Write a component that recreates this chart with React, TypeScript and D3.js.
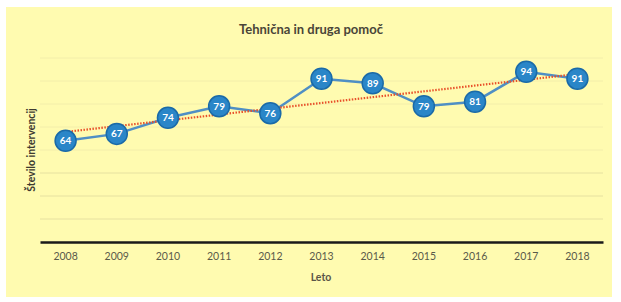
import React, { useEffect, useRef } from 'react';
import * as d3 from 'd3';

const years = ['2008', '2009', '2010', '2011', '2012', '2013', '2014', '2015', '2016', '2017', '2018'];
const interventions = [64, 67, 74, 79, 76, 91, 89, 79, 81, 94, 91];
const yTicks = [30, 40, 50, 60, 70, 80, 90, 100];

const W = 621;
const H = 302;

const App = () => {
  const svgRef = useRef<SVGSVGElement>(null);

  useEffect(() => {
    const svg = d3.select(svgRef.current);
    svg.selectAll('*').remove();

    const font = 'Lato, "Open Sans", sans-serif';

    // yellow panel
    svg.append('rect')
      .attr('x', 6).attr('y', 7)
      .attr('width', 606).attr('height', 290)
      .attr('fill', '#fffbb0');

    const x = d3.scaleBand().domain(years).range([40, 603]);
    const y = d3.scaleLinear().domain([20, 100]).range([242, 58]);

    // gridlines (faint, almost lost in the scan above 60)
    svg.append('g')
      .selectAll('line')
      .data(yTicks)
      .enter()
      .append('line')
      .attr('x1', 40).attr('x2', 603)
      .attr('y1', (d) => y(d)).attr('y2', (d) => y(d))
      .attr('stroke', (d) => (d <= 50 ? '#e6e1a0' : '#f3eeaa'))
      .attr('stroke-width', 1);

    // x axis
    const xAxis = svg.append('g')
      .attr('transform', `translate(0,${y(20)})`)
      .call(d3.axisBottom(x).tickSize(0).tickPadding(11));
    xAxis.select('.domain').attr('stroke', '#1a1a1a').attr('stroke-width', 2.5);
    xAxis.selectAll('text')
      .attr('font-family', font)
      .attr('font-size', 10.5)
      .attr('fill', '#5a5a4a');

    // title + axis titles
    svg.append('text')
      .attr('x', 311).attr('y', 34)
      .attr('text-anchor', 'middle')
      .attr('font-family', font)
      .attr('font-weight', 'bold')
      .attr('font-size', 13)
      .attr('fill', '#4a4538')
      .text('Tehnična in druga pomoč');

    svg.append('text')
      .attr('x', 321).attr('y', 281)
      .attr('text-anchor', 'middle')
      .attr('font-family', font)
      .attr('font-weight', 'bold')
      .attr('font-size', 10.5)
      .attr('fill', '#5a5548')
      .text('Leto');

    svg.append('text')
      .attr('transform', 'translate(35,150) rotate(-90)')
      .attr('text-anchor', 'middle')
      .attr('font-family', font)
      .attr('font-weight', 'bold')
      .attr('font-size', 10.5)
      .attr('fill', '#3e3a30')
      .text('Število intervencij');

    const cx = (d: string) => (x(d) as number) + x.bandwidth() / 2;

    // data line
    const line = d3.line<number>()
      .x((d, i) => cx(years[i]))
      .y((d) => y(d));

    svg.append('path')
      .datum(interventions)
      .attr('d', line)
      .attr('fill', 'none')
      .attr('stroke', '#4f8fc4')
      .attr('stroke-width', 2.5);

    // linear trend
    const idx = interventions.map((_, i) => i);
    const mx = d3.mean(idx) as number;
    const my = d3.mean(interventions) as number;
    const slope = d3.sum(idx, (i) => (i - mx) * (interventions[i] - my)) / d3.sum(idx, (i) => (i - mx) ** 2);
    const b = my - slope * mx;
    const trend = [0, idx.length - 1];
    svg.append('line')
      .attr('x1', cx(years[trend[0]])).attr('y1', y(b + slope * trend[0]))
      .attr('x2', cx(years[trend[1]])).attr('y2', y(b + slope * trend[1]))
      .attr('stroke', '#e8502a')
      .attr('stroke-width', 2.2)
      .attr('stroke-dasharray', '1.5,1.5');

    // markers
    const pts = svg.append('g')
      .selectAll('g')
      .data(interventions)
      .enter()
      .append('g')
      .attr('transform', (d, i) => `translate(${cx(years[i])},${y(d)})`);

    pts.append('circle')
      .attr('r', 10.5)
      .attr('fill', '#2a86c8')
      .attr('stroke', '#1a6aa8')
      .attr('stroke-width', 1.5);

    pts.append('text')
      .attr('text-anchor', 'middle')
      .attr('dy', '0.35em')
      .attr('font-family', font)
      .attr('font-weight', 'bold')
      .attr('font-size', 10)
      .attr('fill', '#ffffff')
      .text((d) => d);
  }, []);

  return (
    <svg ref={svgRef} width={W} height={H} style={{ position: 'absolute', left: 0, top: 0, background: '#ffffff' }}></svg>
  );
};

export default App;
